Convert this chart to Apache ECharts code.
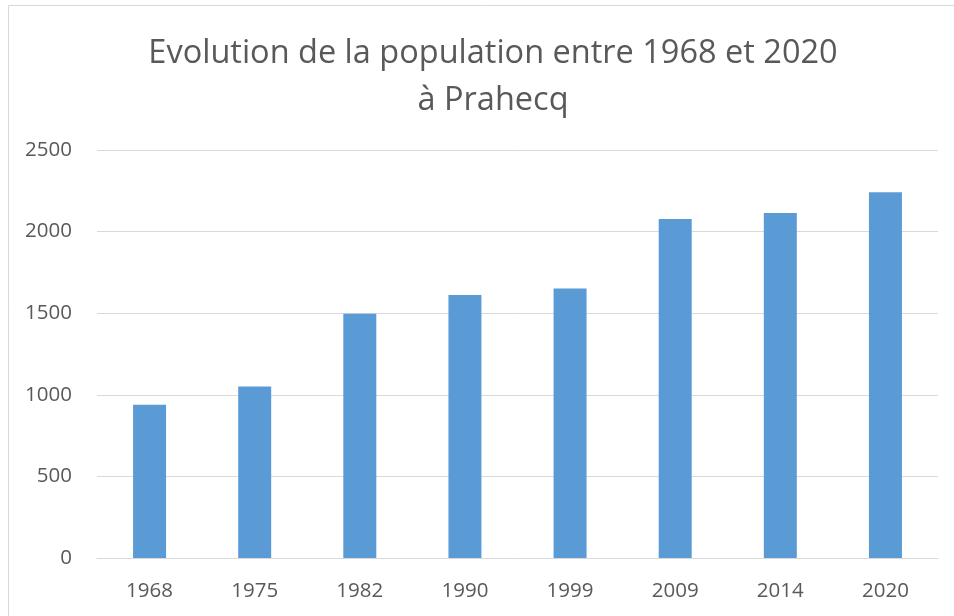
<!DOCTYPE html>
<html>
<head>
<meta charset="utf-8">
<script src="https://cdn.jsdelivr.net/npm/echarts@6/dist/echarts.min.js"></script>
<style>
html,body{margin:0;padding:0;background:#fff;}
#chart{width:954px;height:616px;}
</style>
</head>
<body>
<div id="chart"></div>
<script>
const categories = ['1968','1975','1982','1990','1999','2009','2014','2020'];
const population = [939, 1051, 1496, 1612, 1652, 2077, 2114, 2241];
const yTicks = [0, 500, 1000, 1500, 2000, 2500];

const FONT = 'Open Sans';
const chart = echarts.init(document.getElementById('chart'), null, {renderer: 'canvas'});
chart.setOption({
  backgroundColor: '#ffffff',
  animation: false,
  graphic: [{
    type: 'rect',
    shape: {x: 8.5, y: 5.5, width: 960, height: 620},
    style: {fill: 'none', stroke: '#d9d9d9', lineWidth: 1},
    silent: true
  }],
  title: {
    text: 'Evolution de la population entre 1968 et 2020\nà Prahecq',
    left: 488, top: 25, textAlign: 'center',
    textStyle: {fontFamily: FONT, fontSize: 32.5, fontWeight: 'normal', color: '#595959', lineHeight: 47}
  },
  grid: {left: 97, right: 16, top: 150, bottom: 58, containLabel: false},
  xAxis: {
    type: 'category',
    data: categories,
    axisLine: {show: true, lineStyle: {color: '#d9d9d9', width: 1}},
    axisTick: {show: false},
    axisLabel: {fontFamily: FONT, fontSize: 20.5, color: '#595959', margin: 23}
  },
  yAxis: {
    type: 'value',
    min: yTicks[0], max: yTicks[yTicks.length - 1], interval: 500,
    axisLine: {show: false},
    axisTick: {show: false},
    splitLine: {lineStyle: {color: '#d9d9d9', width: 1}},
    axisLabel: {fontFamily: FONT, fontSize: 20.5, color: '#595959', margin: 25,
      formatter: function (v) { return String(v); }}
  },
  series: [{
    type: 'bar',
    data: population,
    barWidth: 33,
    itemStyle: {color: '#5b9bd5'}
  }]
});
</script>
</body>
</html>
